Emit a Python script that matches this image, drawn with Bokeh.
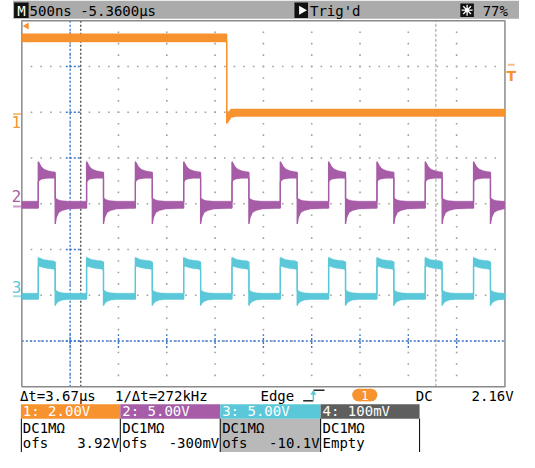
import numpy as np
from bokeh.plotting import figure
from bokeh.models import Range1d
from bokeh.core.properties import value
from bokeh.embed import file_html
from bokeh.resources import INLINE

# ---------------- data (screen divisions: x 0..10 = 500 ns/div, y -4..4) ----------------
# channel 1 (orange): one falling edge
ch1_x = [0.00, 4.24, 4.24, 4.27, 4.33, 4.45, 10.00]
ch1_hi = [3.70, 3.70, 2.04, 1.98, 2.06, 2.06, 2.06]
ch1_lo = [3.55, 3.55, 1.76, 1.80, 1.90, 1.92, 1.92]

# pulse train rise times (channels 2 and 3)
pulse_rise = [0.34, 1.34, 2.35, 3.35, 4.35, 5.35, 6.35, 7.35, 8.35, 9.35]

# channel 2 (purple) pulse envelope, time after rise
ch2_t = [0.00, 0.00, 0.02, 0.06, 0.12, 0.20, 0.28, 0.35, 0.35, 0.37, 0.42, 0.50, 0.62, 0.90]
ch2_hi = [0.04, 0.92, 0.88, 0.80, 0.74, 0.71, 0.69, 0.68, 0.12, 0.10, 0.07, 0.05, 0.04, 0.04]
ch2_lo = [-0.09, 0.48, 0.52, 0.55, 0.56, 0.57, 0.57, 0.57, -0.44, -0.30, -0.18, -0.13, -0.10, -0.09]

# channel 3 (cyan) pulse envelope, time after rise
ch3_t = [0.00, 0.00, 0.03, 0.10, 0.20, 0.30, 0.35, 0.35, 0.37, 0.42, 0.50, 0.62, 0.90]
ch3_hi = [-1.97, -1.18, -1.20, -1.23, -1.25, -1.26, -1.28, -1.90, -1.91, -1.94, -1.96, -1.97, -1.97]
ch3_lo = [-2.08, -1.36, -1.35, -1.38, -1.40, -1.41, -1.43, -2.22, -2.17, -2.12, -2.09, -2.08, -2.08]

# channel ground markers (divisions) and trigger level
ch_gnd = [1.96, -0.06, -2.02]
trig_level = 3.04
cursor_a, cursor_b = 1.22, 8.57
marker_x, marker_y = 1.00, -3.00

# texts
top_left = "500ns -5.3600µs"
top_mid = "Trig'd"
top_right = "77%"
meas = ["Δt=3.67µs", "1/Δt=272kHz", "Edge", "DC", "2.16V"]
ch_head = ["1: 2.00V", "2: 5.00V", "3: 5.00V", "4: 100mV"]
ch_cpl = ["DC1MΩ", "DC1MΩ", "DC1MΩ", "DC1MΩ"]
ch_ofs = ["3.92V", "-300mV", "-10.1V", "Empty"]

C1, C2, C3, C4 = "#F7932F", "#A65CA7", "#5AC8D8", "#5E5E5E"

# ---------------- canvas mapping (reference pixels -> divisions) ----------------
def X(px):
    return (px - 22.0) / 49.8

def Y(py):
    return (210.5 - py) / 47.375

W, H = 519, 452
p = figure(width=W, height=H, output_backend="svg", toolbar_location=None,
           x_range=Range1d(X(0), X(535)), y_range=Range1d(Y(468), Y(0)),
           min_border=0, x_axis_location=None, y_axis_location=None)
p.grid.visible = False
p.outline_line_color = None
p.background_fill_color = "white"
p.border_fill_color = "white"

MONO = value("DejaVu Sans Mono")
FS = "14px"

def txt(px, py, s, color="black", size=FS, align="left", font=MONO, style="normal"):
    p.text(x=[X(px)], y=[Y(py)], text=[s], text_color=color, text_font_size=size,
           text_align=align, text_baseline="middle", text_font=font, text_font_style=style)

def box(l, r, t, b, color):
    p.quad(left=[X(l)], right=[X(r)], top=[Y(t)], bottom=[Y(b)], fill_color=color, line_color=None)

# ---------------- grid ----------------
gx, gy = [], []
for i in range(1, 10):
    for k in range(1, 32):
        gx.append(float(i)); gy.append(-4 + k * 0.25)
for j in range(-3, 4):
    for k in range(1, 50):
        gx.append(k * 0.2); gy.append(float(j))
p.scatter(gx, gy, marker="square", size=1.6, color="#a0a0a0", line_color=None)

# cursors
p.segment(x0=[cursor_b], y0=[-4], x1=[cursor_b], y1=[4], line_color="#9a9a9a", line_dash="3 2", line_width=1)
p.segment(x0=[cursor_a], y0=[-4], x1=[cursor_a], y1=[4], line_color="#333333", line_dash="2 2", line_width=1.2)
BL = "#3A78D0"
p.segment(x0=[marker_x], y0=[-4], x1=[marker_x], y1=[4], line_color=BL, line_dash="2 2", line_width=1.4)
p.segment(x0=[0], y0=[marker_y], x1=[10], y1=[marker_y], line_color=BL, line_dash="2 2", line_width=1.4)
ys = [float(j) for j in range(-3, 4)]
p.segment(x0=[marker_x - 0.09] * 7, y0=ys, x1=[marker_x + 0.19] * 7, y1=ys, line_color=BL, line_dash="2 2", line_width=1.4)
xs = [float(i) for i in range(1, 10)]
p.segment(x0=xs, y0=[marker_y - 0.15] * 9, x1=xs, y1=[marker_y + 0.15] * 9, line_color=BL, line_dash="2 2", line_width=1.4)

# frame
p.quad(left=[0], right=[10], bottom=[-4], top=[4], fill_alpha=0, line_color="#8a8a8a", line_width=1.5)

# ---------------- traces ----------------
def train(t, hi, lo):
    xx, hh, ll = [0.0], [hi[-1]], [lo[-1]]
    for r in pulse_rise:
        for tt, h, l in zip(t, hi, lo):
            if r + tt <= 10:
                xx.append(r + tt); hh.append(h); ll.append(l)
    if xx[-1] < 10:
        xx.append(10.0); hh.append(hi[-1]); ll.append(lo[-1])
    return np.array(xx), np.array(hh), np.array(ll)

def draw(xx, hh, ll, color):
    p.varea(x=xx, y1=ll - 0.025, y2=hh + 0.025, fill_color=color, fill_alpha=0.45)
    p.varea(x=xx, y1=ll, y2=hh, fill_color=color)
    p.line(xx, hh, line_color=color, line_width=1.3)
    p.line(xx, ll, line_color=color, line_width=1.3)

draw(np.array(ch1_x), np.array(ch1_hi), np.array(ch1_lo), C1)
draw(*train(ch2_t, ch2_hi, ch2_lo), C2)
draw(*train(ch3_t, ch3_hi, ch3_lo), C3)

# channel markers on the left
LIGHT = ["#F9BE86", "#C89AC9", "#9FDDE6"]
for i, (g, c) in enumerate(zip(ch_gnd, [C1, C2, C3])):
    p.segment(x0=[X(13)], y0=[g], x1=[X(21)], y1=[g], line_color=LIGHT[i], line_width=2)
txt(16.5, 126, "1", C1, "15px", "center", value("DejaVu Sans"))
txt(16.5, 202, "2", C2, "15px", "center", value("DejaVu Sans"))
txt(16.5, 297, "3", C3, "15px", "center", value("DejaVu Sans"))

# trigger position arrow and trigger level marker
p.scatter([X(27)], [Y(26.5)], marker="triangle", angle=np.pi / 2, size=7, color=C1, line_color=None)
p.segment(x0=[X(523)], y0=[trig_level], x1=[X(530)], y1=[trig_level], line_color="#F9BE86", line_width=2)
txt(526.5, 78, "T", C1, "14px", "center", value("DejaVu Sans"), "bold")

# ---------------- top bar ----------------
box(13, 535, 0, 19, "#ABABAB")
box(14, 29, 2, 18, "#111111")
txt(21.5, 10.5, "M", "white", "14px", "center")
txt(30, 10.5, top_left)
box(303, 317, 2, 18, "#111111")
p.scatter([X(310.5)], [Y(10)], marker="triangle", angle=-np.pi / 2, size=9, color="white", line_color=None)
txt(319, 10.5, top_mid)
box(474, 488, 3, 17, "#111111")
p.scatter([X(481)], [Y(10)], marker="asterisk", size=11, line_color="white", line_width=1.3)
p.scatter([X(481)], [Y(10)], marker="circle", size=4, color="white", line_color=None)
txt(497, 10.5, top_right)

# ---------------- measurement row ----------------
txt(20, 409, meas[0])
txt(118, 409, meas[1])
txt(268, 409, meas[2])
p.line([X(312), X(322.5)], [Y(414.5), Y(414.5)], line_color="black", line_width=1.3)
p.line([X(322.5), X(334)], [Y(403.5), Y(403.5)], line_color="black", line_width=1.3)
p.segment(x0=[X(322.5)], y0=[Y(414.5)], x1=[X(322.5)], y1=[Y(405)], line_color=C3, line_width=1.5)
p.scatter([X(322.5)], [Y(406.5)], marker="triangle", size=6, color=C3, line_color=None)
# trigger source pill
p.quad(left=[X(369)], right=[X(382)], top=[Y(402)], bottom=[Y(415)], fill_color=C1, line_color=None)
p.scatter([X(369), X(382)], [Y(408.5), Y(408.5)], marker="circle", size=12.6, color=C1, line_color=None)
txt(375.5, 409, "1", "white", "12px", "center")
txt(428, 409, meas[3])
txt(529, 409, meas[4], align="right")

# ---------------- channel boxes ----------------
cols = [(21, 123.5), (123.5, 226.5), (226.5, 330), (330, 432)]
heads = [C1, C2, C3, C4]
box(226.5, 330, 433, 468, "#B9B9B9")
for (l, r), c, h, cp, of, i in zip(cols, heads, ch_head, ch_cpl, ch_ofs, range(4)):
    box(l, r, 418, 433, c)
    txt(l + 2, 425.5, h, "white")
    txt(l + 2, 442.5, cp, "black")
    if i < 3:
        txt(l + 2, 458.5, "ofs", "black")
        txt(r - 1, 458.5, of, "black", FS, "right")
    else:
        txt(l + 2, 458.5, of, "black")
seps = [21.5, 123.5, 226.5, 330, 432]
p.segment(x0=[X(s) for s in seps], y0=[Y(433)] * 5, x1=[X(s) for s in seps], y1=[Y(468)] * 5,
          line_color="black", line_width=1)

open("out.html", "w").write(file_html(p, INLINE))
